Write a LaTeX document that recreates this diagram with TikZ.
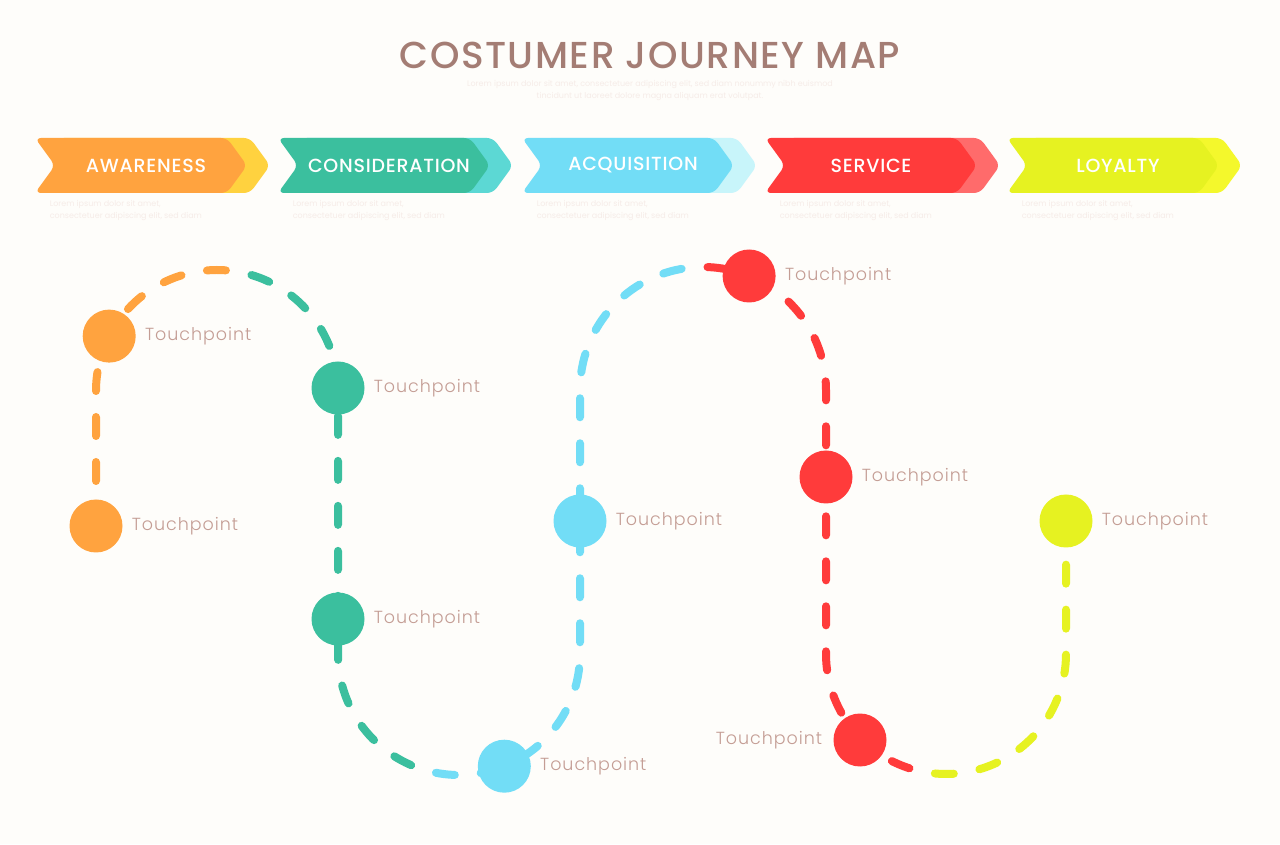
\documentclass[tikz,border=0pt]{standalone}
\usepackage{fontspec}
\setmainfont{Poppins}
\IfFontExistsTF{Poppins Medium}{\newfontfamily\headfont{Poppins Medium}[LetterSpace=4]}{\newfontfamily\headfont{Poppins}[LetterSpace=4]}
\IfFontExistsTF{Poppins Light}{\newfontfamily\tpfont{Poppins Light}[LetterSpace=5.5]}{\newfontfamily\tpfont{Poppins}[LetterSpace=5.5]}
\usetikzlibrary{positioning,shapes.symbols}

\definecolor{bgcol}{HTML}{FEFDFA}
\definecolor{titlecol}{HTML}{A47D74}
\definecolor{tpcol}{HTML}{C49D94}
\definecolor{loremcol}{HTML}{F6ECE8}
\definecolor{awcol}{HTML}{FFA33F}
\definecolor{awtail}{HTML}{FFD23F}
\definecolor{cocol}{HTML}{3BBF9E}
\definecolor{cotail}{HTML}{5CD8D4}
\definecolor{aqcol}{HTML}{72DDF6}
\definecolor{aqtail}{HTML}{C8F5FA}
\definecolor{secol}{HTML}{FF3B3B}
\definecolor{setail}{HTML}{FF6B6B}
\definecolor{locol}{HTML}{E6F221}
\definecolor{lotail}{HTML}{F4F82C}

\pgfdeclarelayer{paper}
\pgfdeclarelayer{trail}
\pgfsetlayers{paper,trail,main}

\tikzset{
	stage/.style={
		signal,
		signal from=west,
		signal to=east,
		signal pointer angle=108,
		rounded corners=6pt,
		fill=#1,
		minimum width=212pt,
		minimum height=55pt,
		inner sep=0pt,
		text=white,
		font=\headfont\fontsize{19}{20}\selectfont},
	stagetail/.style={
		stage=#1,
		xshift=23pt},
	lorem/.style={
		text=loremcol,
		font=\fontsize{8}{12}\selectfont,
		align=left,
		inner sep=0pt},
	touch/.style={
		circle,
		fill=#1,
		minimum size=53pt,
		inner sep=0pt},
	tplabel/.style={
		text=tpcol,
		font=\tpfont\fontsize{17.5}{20}\selectfont,
		inner sep=0pt},
	trail/.style={
		draw=#1,
		line width=8pt,
		line cap=round,
		dash pattern=on 19pt off 26pt},
	joined/.style={
		dash phase=#1}
}

\begin{document}
\begin{tikzpicture}[
			x=1pt, y=1pt,
			node distance = 9pt,
			]

		\begin{pgfonlayer}{paper}
			\fill[bgcol] (0,0) rectangle (1280,844);
		\end{pgfonlayer}
		\useasboundingbox (0,0) rectangle (1280,844);

		% title
		\node[text=titlecol, font=\headfont\fontsize{37.5}{44}\selectfont] (title) at (650,789) {COSTUMER JOURNEY MAP};
		\node[lorem, align=center, below=8pt of title] (intro) {Lorem ipsum dolor sit amet, consectetuer adipiscing elit, sed diam nonummy nibh euismod\\ tincidunt ut laoreet dolore magna aliquam erat volutpat.};

		% stages
		\node[stagetail=awtail] at (141,678.5) {};
		\node[stage=awcol] (AW) at (141,678.5) {\hspace*{10pt}AWARENESS};
		\node[stagetail=cotail] at (384,678.5) {};
		\node[stage=cocol] (CO) at (384,678.5) {\hspace*{10pt}CONSIDERATION};
		\node[stagetail=aqtail] at (628,678.5) {};
		\node[stage=aqcol] (AQ) at (628,678.5) {\hspace*{10pt}ACQUISITION};
		\node[stagetail=setail] at (871,678.5) {};
		\node[stage=secol] (SE) at (871,678.5) {SERVICE};
		\node[stagetail=lotail] at (1113,678.5) {};
		\node[stage=locol] (LO) at (1113,678.5) {\hspace*{10pt}LOYALTY};

		\node[lorem, anchor=north west] at ([xshift=15pt, yshift=-7pt]AW.south west) {Lorem ipsum dolor sit amet,\\ consectetuer adipiscing elit, sed diam};
		\node[lorem, anchor=north west] at ([xshift=15pt, yshift=-7pt]CO.south west) {Lorem ipsum dolor sit amet,\\ consectetuer adipiscing elit, sed diam};
		\node[lorem, anchor=north west] at ([xshift=15pt, yshift=-7pt]AQ.south west) {Lorem ipsum dolor sit amet,\\ consectetuer adipiscing elit, sed diam};
		\node[lorem, anchor=north west] at ([xshift=15pt, yshift=-7pt]SE.south west) {Lorem ipsum dolor sit amet,\\ consectetuer adipiscing elit, sed diam};
		\node[lorem, anchor=north west] at ([xshift=15pt, yshift=-7pt]LO.south west) {Lorem ipsum dolor sit amet,\\ consectetuer adipiscing elit, sed diam};

		% touchpoints
		\node[touch=awcol] (A1) at (109.2,507.9) {};
		\node[touch=awcol] (A2) at (96,318) {};
		\node[touch=cocol] (C1) at (338,456) {};
		\node[touch=cocol] (C2) at (338,225) {};
		\node[touch=aqcol] (Q1) at (504.3,77.8) {};
		\node[touch=aqcol] (Q2) at (580,323) {};
		\node[touch=secol] (S1) at (749.1,568) {};
		\node[touch=secol] (S2) at (826,367) {};
		\node[touch=secol] (S3) at (860,104) {};
		\node[touch=locol] (L1) at (1066,323) {};

		\node[tplabel, right=of A1] (A1t) {Touchpoint};
		\node[tplabel, right=of A2] (A2t) {Touchpoint};
		\node[tplabel, right=of C1] (C1t) {Touchpoint};
		\node[tplabel, right=of C2] (C2t) {Touchpoint};
		\node[tplabel, right=of Q1] (Q1t) {Touchpoint};
		\node[tplabel, right=of Q2] (Q2t) {Touchpoint};
		\node[tplabel, right=of S1] (S1t) {Touchpoint};
		\node[tplabel, right=of S2] (S2t) {Touchpoint};
		\node[tplabel, left=11pt of S3] (S3t) {Touchpoint};
		\node[tplabel, right=of L1] (L1t) {Touchpoint};

		% the journey, dash phase carried on from piece to piece
		\begin{pgfonlayer}{trail}
			\draw[trail=awcol] (A2.center) -- (96,453) arc[start angle=180, end angle=80, radius=121] coordinate (j1);
			\draw[trail=cocol, joined=31.185pt] (j1) arc[start angle=80, end angle=0, radius=121] -- (C2.center) -- (338,190)
				arc[start angle=180, end angle=259, radius=121] coordinate (j2);
			\draw[trail=aqcol, joined=44.969pt] (j2) arc[start angle=259, end angle=360, radius=121] -- (Q2.center) -- (580,454)
				arc[start angle=180, end angle=100, radius=123] coordinate (j3);
			\draw[trail=secol, joined=19.006pt] (j3) arc[start angle=100, end angle=0, radius=123] -- (S2.center) -- (826,190)
				arc[start angle=180, end angle=256, radius=120] coordinate (j4);
			\draw[trail=locol, joined=26.855pt] (j4) arc[start angle=256, end angle=360, radius=120] -- (L1.center);
		\end{pgfonlayer}
\end{tikzpicture}
\end{document}
